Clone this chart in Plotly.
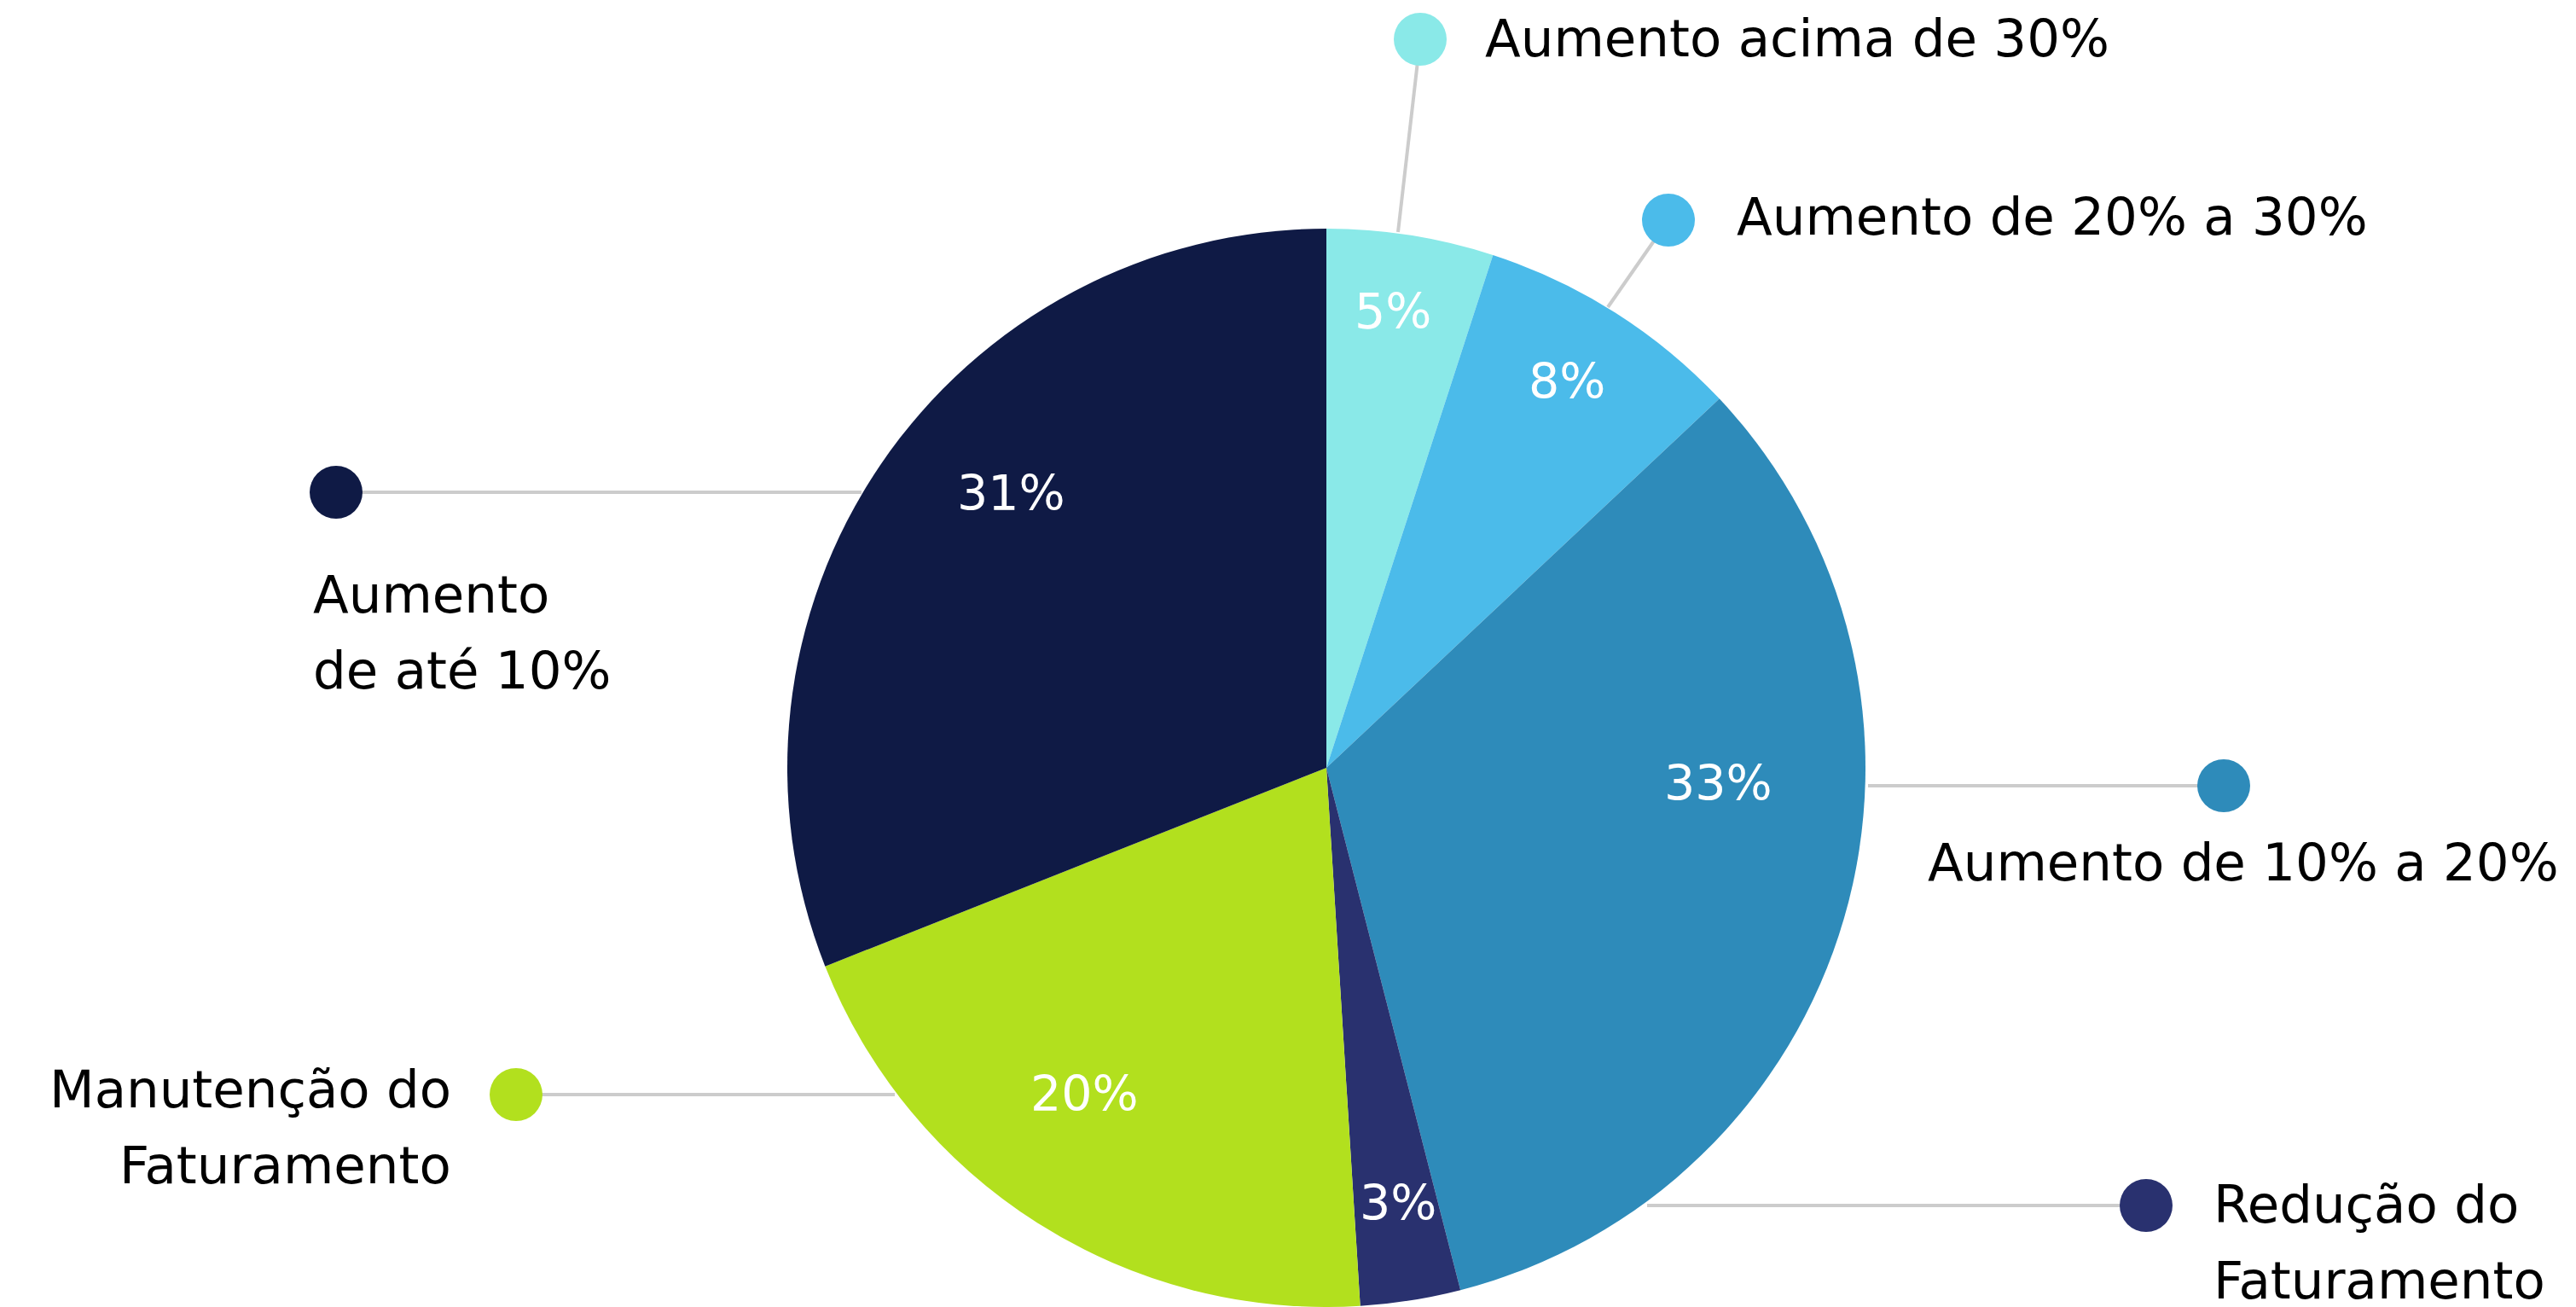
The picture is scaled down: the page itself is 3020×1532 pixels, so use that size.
import plotly.graph_objects as go

W, H = 3020, 1532

categories = ["Aumento acima de 30%", "Aumento de 20% a 30%", "Aumento de 10% a 20%",
              "Redução do Faturamento", "Manutenção do Faturamento", "Aumento de até 10%"]
values = [5, 8, 33, 3, 20, 31]
colors = ["#8AE9E8", "#4BBBEA", "#2E8BBA", "#29316F", "#B2E01E", "#0F1A45"]

# label text lines shown next to each dot
label_lines = [["Aumento acima de 30%"], ["Aumento de 20% a 30%"], ["Aumento de 10% a 20%"],
               ["Redução do", "Faturamento"], ["Manutenção do", "Faturamento"], ["Aumento", "de até 10%"]]

# layout for the callouts (pixel space): dot, leader-line end on the pie edge, text anchor
dot_xy = [(1665, 46), (1956, 258), (2607, 921), (2516, 1413), (605, 1283), (394, 577)]
edge_xy = [(1639, 272), (1885, 360), (2190, 921), (1931, 1413), (1049, 1283), (1010, 577)]
text_xy = [(1739, 44), (2034, 253), (2258, 1010), (2593, 1411), (531, 1276), (365, 696)]
text_anchor = ["left", "left", "left", "left", "right", "left"]
line_gap = 89
# positions of the percentage labels inside the slices (pixel space)
pct_xy = [(1633, 365), (1837, 447), (2014, 918), (1639, 1410), (1271, 1282), (1185, 578)]

FONT = "DejaVu Sans"

fig = go.Figure()

R = 632
cx, cy_bottom = 1555, 632
fig.add_trace(go.Pie(
    labels=categories, values=values, sort=False, direction="clockwise", rotation=0,
    marker=dict(colors=colors, line=dict(width=0)),
    textinfo="none",
    hoverinfo="label+percent", showlegend=False,
    domain=dict(x=[(cx - R) / W, (cx + R) / W], y=[0, (cy_bottom + R) / H]),
))

total = sum(values)
for i in range(len(categories)):
    fig.add_annotation(x=pct_xy[i][0], y=pct_xy[i][1], text=f"{round(values[i] / total * 100)}%",
                       xref="x", yref="y", showarrow=False, xanchor="center", yanchor="middle",
                       font=dict(family=FONT, size=57, color="white"))

for i in range(len(categories)):
    fig.add_trace(go.Scatter(
        x=[dot_xy[i][0], edge_xy[i][0]], y=[dot_xy[i][1], edge_xy[i][1]],
        mode="lines", line=dict(color="#CCCCCC", width=4), hoverinfo="skip", showlegend=False))
for i in range(len(categories)):
    fig.add_trace(go.Scatter(
        x=[dot_xy[i][0]], y=[dot_xy[i][1]], mode="markers",
        marker=dict(size=62, color=colors[i], line=dict(width=0)),
        hoverinfo="skip", showlegend=False))
    for j, t in enumerate(label_lines[i]):
        fig.add_annotation(x=text_xy[i][0], y=text_xy[i][1] + j * line_gap, text=t,
                           xref="x", yref="y", showarrow=False,
                           xanchor=text_anchor[i], yanchor="middle",
                           font=dict(family=FONT, size=61, color="#000000"))

fig.update_layout(
    width=W, height=H, margin=dict(l=0, r=0, t=0, b=0),
    paper_bgcolor="white", plot_bgcolor="white",
    xaxis=dict(range=[0, W], visible=False, fixedrange=True),
    yaxis=dict(range=[H, 0], visible=False, fixedrange=True),
)

fig.write_html("out.html", config={"displayModeBar": False},
               post_script="document.body.style.margin='0';document.body.style.overflow='hidden';")
